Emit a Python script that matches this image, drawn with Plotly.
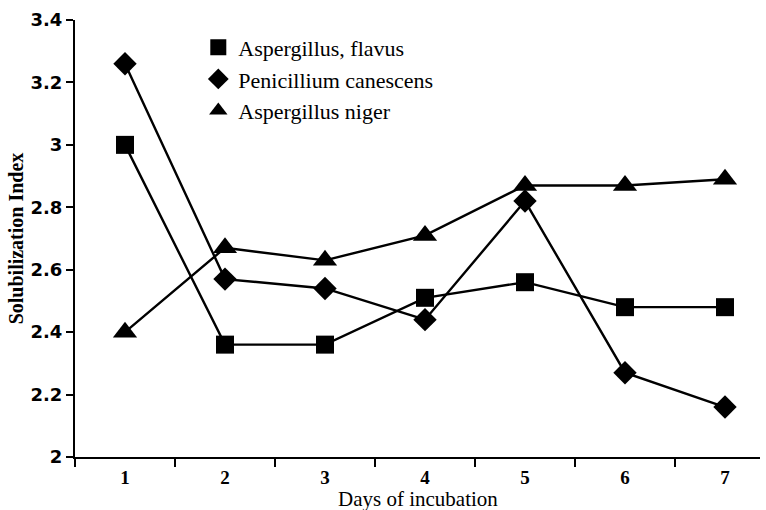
import plotly.graph_objects as go

days = ["1", "2", "3", "4", "5", "6", "7"]
flavus = [3.00, 2.36, 2.36, 2.51, 2.56, 2.48, 2.48]
canescens = [3.26, 2.57, 2.54, 2.44, 2.82, 2.27, 2.16]
niger = [2.40, 2.67, 2.63, 2.71, 2.87, 2.87, 2.89]
names = ["Aspergillus, flavus", "Penicillium canescens", "Aspergillus niger"]
symbols = ["square", "diamond", "triangle-up"]
sizes = [18, 18, 21]
y_ticks = [2, 2.2, 2.4, 2.6, 2.8, 3, 3.2, 3.4]
y_tick_text = ["2", "2.2", "2.4", "2.6", "2.8", "3", "3.2", "3.4"]
x_title = "Days of incubation"

fig = go.Figure()
for vals, nm, sym, sz in zip([flavus, canescens, niger], names, symbols, sizes):
    fig.add_trace(go.Scatter(
        x=days, y=vals, name=nm, mode="lines+markers",
        line=dict(color="black", width=2.4),
        marker=dict(symbol=sym, size=sz, color="black"),
        cliponaxis=False, showlegend=False,
    ))
# marker-only legend entries
for nm, sym, sz in zip(names, symbols, sizes):
    fig.add_trace(go.Scatter(
        x=[None], y=[None], name=nm, mode="markers",
        marker=dict(symbol=sym, size=sz, color="black"),
    ))

fig.add_annotation(text=x_title, xref="paper", yref="paper", x=0.5, y=-0.128,
                   xanchor="center", yanchor="bottom", showarrow=False,
                   font=dict(family="Liberation Serif", size=21, color="black"))

fig.update_layout(
    width=766, height=510,
    margin=dict(l=75, r=6, t=20, b=53),
    paper_bgcolor="white", plot_bgcolor="white",
    showlegend=True,
    legend=dict(x=0.18, y=0.985, xanchor="left", yanchor="top",
                font=dict(family="Liberation Serif", size=22, color="black"),
                bgcolor="rgba(0,0,0,0)", itemsizing="trace",
                tracegroupgap=0, itemwidth=30),
    xaxis=dict(type="category", range=[-0.5, 6.35], tickson="boundaries",
               showline=True, linecolor="black", linewidth=2,
               ticks="outside", ticklen=8, tickwidth=2, tickcolor="black",
               showgrid=False, zeroline=False, ticklabelstandoff=2, automargin=False,
               tickfont=dict(family="Liberation Serif", size=19, color="black", weight="bold")),
    yaxis=dict(range=[2, 3.4], tickvals=y_ticks, ticktext=y_tick_text,
               showline=True, linecolor="black", linewidth=2,
               ticks="outside", ticklen=7, tickwidth=2, tickcolor="black",
               showgrid=False, zeroline=False, automargin=False,
               tickfont=dict(family="DejaVu Sans", size=18, color="black", weight="bold"),
               title=dict(text="Solubilization Index", standoff=2,
                          font=dict(family="Liberation Serif", size=20, color="black", weight="bold"))),
)

fig.write_html("out.html")
